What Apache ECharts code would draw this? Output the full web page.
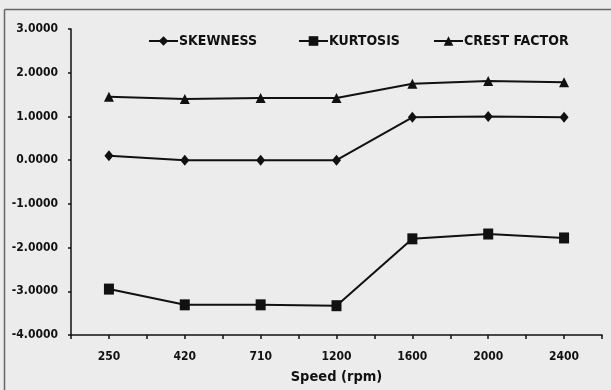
<!DOCTYPE html>
<html>
<head>
<meta charset="utf-8">
<script src="https://cdn.jsdelivr.net/npm/echarts@6/dist/echarts.min.js"></script>
<style>
html,body{margin:0;padding:0;background:#ececec;}
#c{width:611px;height:390px;}
</style>
</head>
<body>
<div id="c"></div>
<script>
const categories = ['250', '420', '710', '1200', '1600', '2000', '2400'];
const skewness = [0.10, 0.00, 0.00, 0.00, 0.98, 1.00, 0.98];
const kurtosis = [-2.95, -3.31, -3.31, -3.33, -1.80, -1.69, -1.78];
const crestFactor = [1.45, 1.40, 1.42, 1.42, 1.75, 1.81, 1.78];
const seriesNames = ['SKEWNESS', 'KURTOSIS', 'CREST FACTOR'];

const numFont = '"DejaVu Sans Condensed", "Liberation Sans Narrow", sans-serif';
const txtFont = '"Liberation Sans Narrow", "DejaVu Sans Condensed", sans-serif';
const ink = '#111';

const chart = echarts.init(document.getElementById('c'));
function legendAt(name, left) {
  return {
    data: [name], left: left, top: 29, itemWidth: 29, itemHeight: 12, itemGap: 0,
    textStyle: {fontFamily: txtFont, fontWeight: 'bold', fontSize: 14, color: ink, padding: [0, 0, 0, -4]}
  };
}
const mk = (name, data, symbol, size) => ({
  name: name, type: 'line', data: data, symbol: symbol, symbolSize: size,
  lineStyle: {color: ink, width: 2}, itemStyle: {color: ink},
  xAxisIndex: 0, yAxisIndex: 0, animation: false
});
chart.setOption({
  backgroundColor: '#ececec',
  animation: false,
  graphic: [
    {type: 'line', shape: {x1: 4.5, y1: 9.5, x2: 4.5, y2: 390}, style: {stroke: '#666', lineWidth: 1.5}, silent: true},
    {type: 'line', shape: {x1: 4.5, y1: 9.5, x2: 611, y2: 9.5}, style: {stroke: '#666', lineWidth: 1.5}, silent: true}
  ],
  legend: [legendAt(seriesNames[0], 143), legendAt(seriesNames[1], 293), legendAt(seriesNames[2], 428)],
  grid: {left: 71, right: 9, top: 29, bottom: 51},
  xAxis: [{
    type: 'category', data: categories, boundaryGap: true,
    axisLine: {onZero: false, lineStyle: {color: ink, width: 1.5}},
    axisTick: {show: true, length: 4, lineStyle: {color: ink, width: 1.5}},
    axisLabel: {margin: 16, fontFamily: numFont, fontWeight: 'bold', fontSize: 12, color: ink},
    name: 'Speed (rpm)', nameLocation: 'middle', nameGap: 35,
    nameTextStyle: {fontFamily: txtFont, fontWeight: 'bold', fontSize: 14.5, color: ink}
  }, {
    type: 'category', data: categories, boundaryGap: true, position: 'bottom',
    axisLine: {show: false, onZero: false},
    axisTick: {show: true, alignWithLabel: true, length: 4, lineStyle: {color: ink, width: 1.5}},
    axisLabel: {show: false}
  }],
  yAxis: {
    type: 'value', min: -4, max: 3, interval: 1,
    axisLine: {show: true, lineStyle: {color: ink, width: 1.5}},
    axisTick: {show: true, length: 3, lineStyle: {color: ink, width: 1.5}},
    splitLine: {show: false},
    axisLabel: {margin: 13, fontFamily: numFont, fontWeight: 'bold', fontSize: 12, color: ink,
      formatter: v => v.toFixed(4)}
  },
  series: [
    mk(seriesNames[0], skewness, 'diamond', [9, 11]),
    mk(seriesNames[1], kurtosis, 'rect', [10, 11]),
    mk(seriesNames[2], crestFactor, 'triangle', [10, 10])
  ]
});
</script>
</body>
</html>
